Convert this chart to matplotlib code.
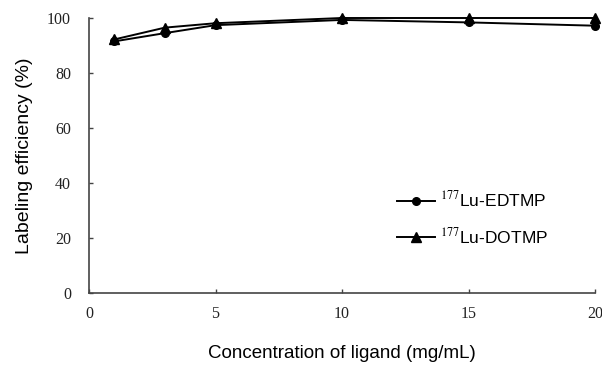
import matplotlib
matplotlib.use("Agg")
import matplotlib.pyplot as plt

conc = [1, 3, 5, 10, 15, 20]
edtmp = [91.5, 94.5, 97.4, 99.3, 98.4, 97.2]
dotmp = [92.2, 96.5, 98.1, 100.0, 100.0, 100.0]
xticks = [0, 5, 10, 15, 20]
yticks = [0, 20, 40, 60, 80, 100]
labels = [r'$^{\mathrm{177}}$Lu-EDTMP', r'$^{\mathrm{177}}$Lu-DOTMP']

plt.rcParams['mathtext.fontset'] = 'stix'

W, H = 602, 366
fig = plt.figure(figsize=(W / 100, H / 100), dpi=100)
ax = fig.add_axes([89 / W, 1 - 293 / H, (595 - 89) / W, (293 - 18) / H])

ax.plot(conc, edtmp, color='black', lw=1.4, marker='o', ms=5.5, label=labels[0])
ax.plot(conc, dotmp, color='black', lw=1.4, marker='^', ms=6.5, label=labels[1])

ax.set_xlim(0, 20)
ax.set_ylim(0, 100)
ax.set_xticks(xticks)
ax.set_yticks(yticks)
for s in ['top', 'right']:
    ax.spines[s].set_visible(False)
for s in ['left', 'bottom']:
    ax.spines[s].set_color('#444444')
    ax.spines[s].set_linewidth(1.2)
ax.tick_params(axis='both', direction='in', length=3, width=1, color='#444444',
               labelsize=11.5, labelcolor='#222222')
ax.tick_params(axis='x', pad=9)
ax.tick_params(axis='y', pad=13)
for t in ax.get_xticklabels() + ax.get_yticklabels():
    t.set_fontfamily('Liberation Serif')
for ln in ax.get_lines():
    ln.set_clip_on(False)

ax.set_xlabel('Concentration of ligand (mg/mL)', fontsize=13.5,
              fontfamily='Liberation Sans', labelpad=17)
ax.set_ylabel('Labeling efficiency (%)', fontsize=14,
              fontfamily='Liberation Sans', labelpad=10)

leg = ax.legend(loc='upper left', bbox_to_anchor=(388 / W, 1 - 181 / H),
                bbox_transform=fig.transFigure, frameon=False, borderpad=0,
                handlelength=2.2, handletextpad=0.3, labelspacing=0.95,
                prop={'family': 'Liberation Sans', 'size': 12.5})

fig.savefig('out.png', dpi=100)
